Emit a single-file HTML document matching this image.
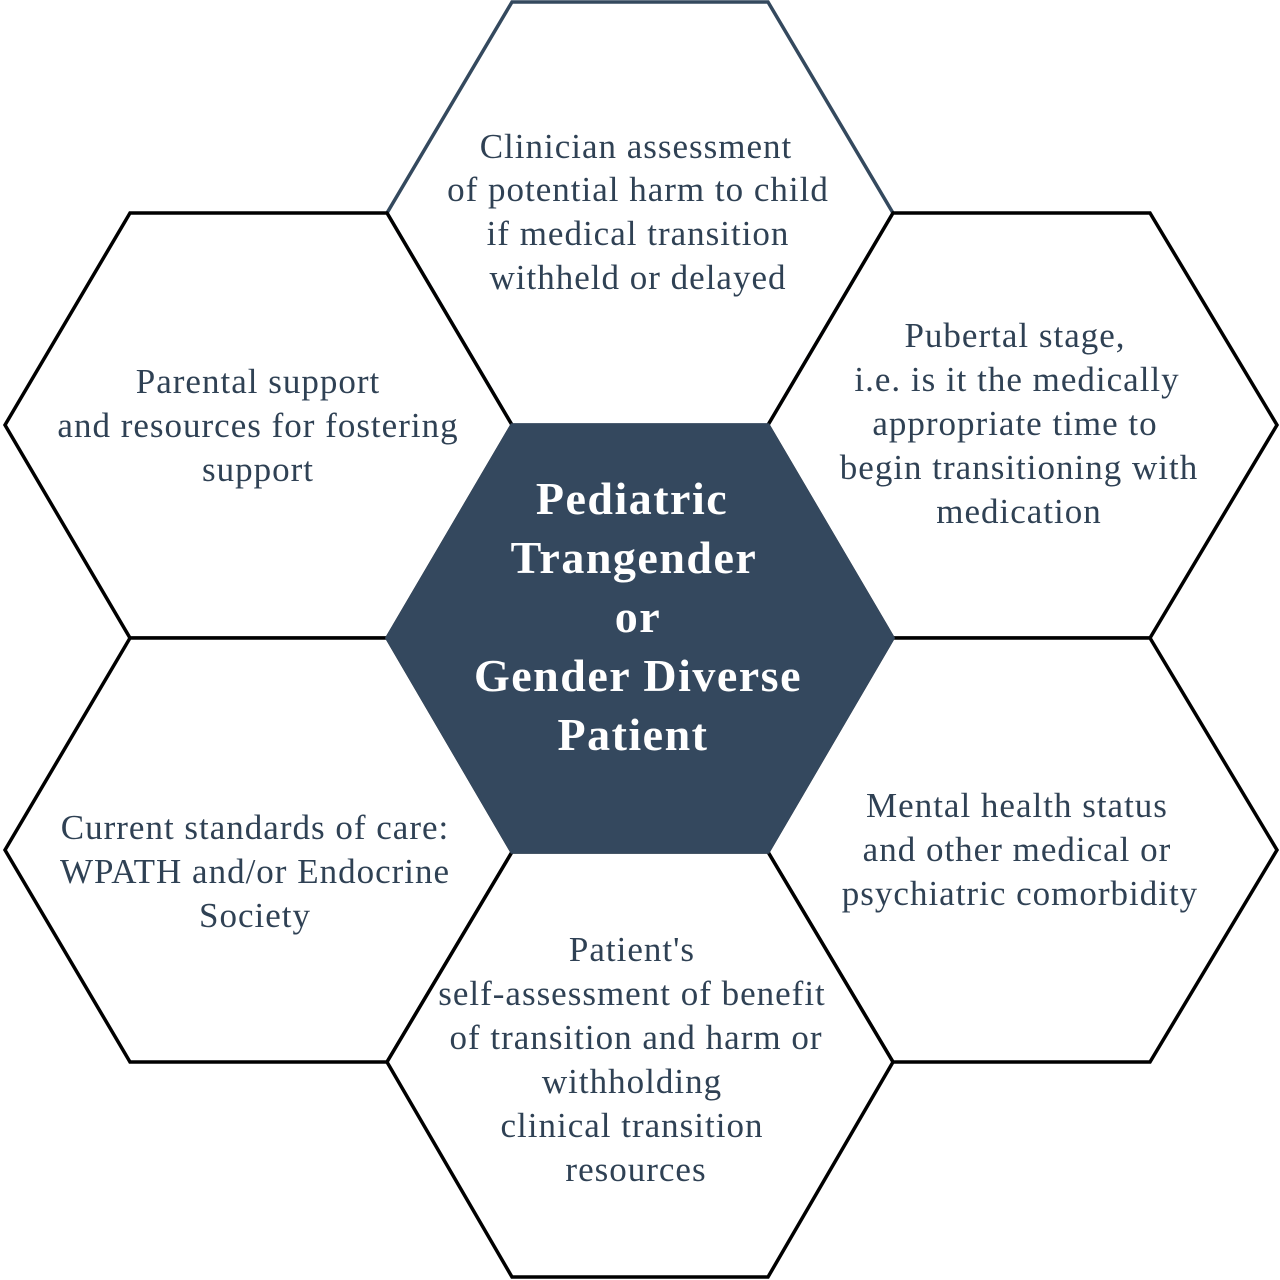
<!DOCTYPE html>
<html><head><meta charset="utf-8"><style>
html,body{margin:0;padding:0;background:#fff;width:1280px;height:1280px;overflow:hidden}
text{font-family:"Liberation Serif",serif;fill:#2f4154;font-size:35px;letter-spacing:1px;text-anchor:middle}
.c{fill:#fff;font-weight:bold;font-size:46px;letter-spacing:1.5px}
</style></head><body>
<svg width="1280" height="1280" viewBox="0 0 1280 1280" xmlns="http://www.w3.org/2000/svg">
<g fill="#fff" stroke="#000" stroke-width="3.5" stroke-linejoin="miter">
<polygon points="512,2 768,2 893,213 768,425 512,425 387,213" stroke="#34495e"/>
<polygon points="130,213 387,213 512,425 387,638 130,638 5,425"/>
<polygon points="893,213 1150,213 1277,425 1150,638 893,638 768,425"/>
<polygon points="130,638 387,638 512,852 387,1062 130,1062 5,850"/>
<polygon points="893,638 1150,638 1277,850 1150,1062 893,1062 768,852"/>
<polygon points="512,852 768,852 893,1062 768,1277 512,1277 387,1062"/>
<polygon points="512,425 768,425 893,638 768,852 512,852 387,638" fill="#34485e" stroke="#34485e"/>
</g>
<text x="636" y="158">Clinician assessment</text>
<text x="638" y="201">of potential harm to child</text>
<text x="638" y="245">if medical transition</text>
<text x="638" y="289">withheld or delayed</text>
<text x="258" y="393">Parental support</text>
<text x="258" y="437">and resources for fostering</text>
<text x="258" y="481">support</text>
<text x="1015" y="347">Pubertal stage,</text>
<text x="1017" y="391">i.e. is it the medically</text>
<text x="1015" y="435">appropriate time to</text>
<text x="1019" y="479">begin transitioning with</text>
<text x="1019" y="523">medication</text>
<text class="c" x="632" y="514">Pediatric</text>
<text class="c" x="634" y="573">Trangender</text>
<text class="c" x="638" y="632">or</text>
<text class="c" x="638" y="691">Gender Diverse</text>
<text class="c" x="633" y="750">Patient</text>
<text x="255" y="839">Current standards of care:</text>
<text x="255" y="883">WPATH and/or Endocrine</text>
<text x="255" y="927">Society</text>
<text x="1017" y="817">Mental health status</text>
<text x="1017" y="861">and other medical or</text>
<text x="1020" y="905">psychiatric comorbidity</text>
<text x="632" y="961">Patient's</text>
<text x="632" y="1005">self-assessment of benefit</text>
<text x="636" y="1049">of transition and harm or</text>
<text x="632" y="1093">withholding</text>
<text x="632" y="1137">clinical transition</text>
<text x="636" y="1181">resources</text>
</svg>
</body></html>
